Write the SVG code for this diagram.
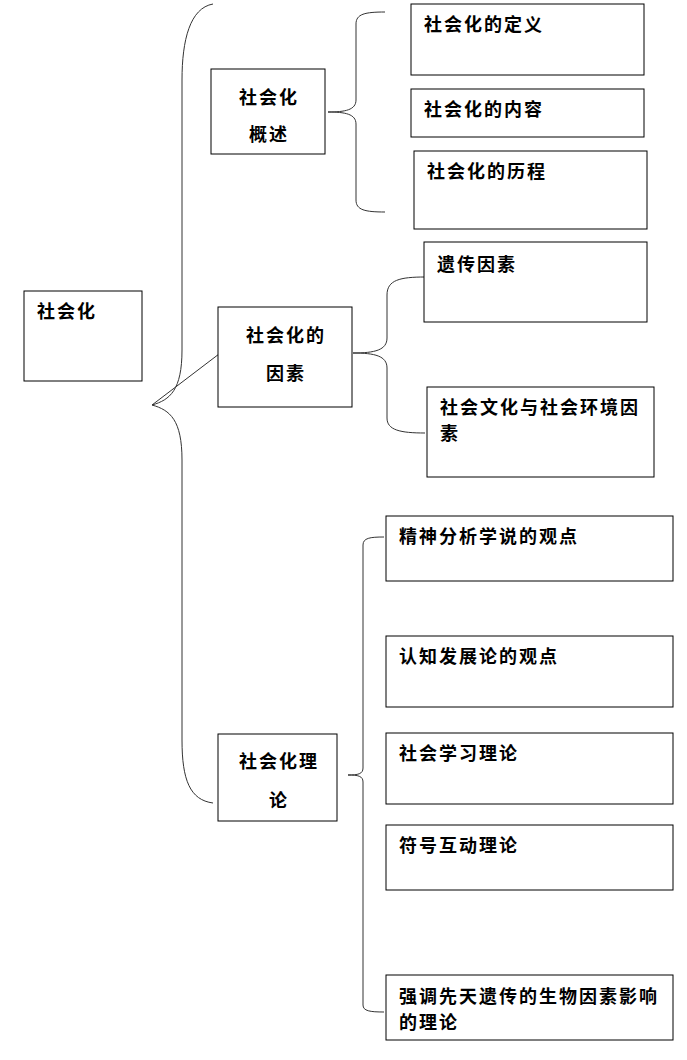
<svg xmlns="http://www.w3.org/2000/svg" width="687" height="1060" viewBox="0 0 687 1060">
<style>
rect{fill:#fff;stroke:#000;stroke-width:1}
text{font-family:"Liberation Serif","Noto Sans CJK SC",serif;font-size:18px;letter-spacing:2px;font-weight:bold;fill:#000}
.c{fill:none;stroke:#333;stroke-width:1}
</style>
<rect x="0" y="0" width="687" height="1060" style="stroke:none"/>
<g id="connectors">
<path class="c" d="M213,4 C190,8 182,40 182,80 L182,350 C182,390 170,400 152,405 C170,410 182,420 182,460 L182,740 C182,780 190,800 213,803"/>
<path class="c" d="M152,405 L219,354"/>
<path class="c" d="M385,12 C365,12 356,14 356,24 L356,100 C356,110 345,112 328,112 C345,112 356,114 356,124 L356,200 C356,210 365,212 385,212"/>
<path class="c" d="M425,277 C400,277 387,280 387,295 L387,338 C387,350 375,353 353,353 C375,353 387,356 387,368 L387,418 C387,430 400,433 425,433"/>
<path class="c" d="M384,537 C370,537 363,538 363,545 L363,768 C363,774 358,775 348,775 C358,775 363,776 363,782 L363,1005 C363,1011 370,1012 384,1012"/>
</g>
<g id="n0"><rect x="24" y="291" width="118" height="90"/><text x="37" y="318">社会化</text></g>
<g id="n1"><rect x="211" y="69" width="114" height="85"/><text x="269" y="104" text-anchor="middle">社会化</text><text x="269" y="141" text-anchor="middle">概述</text></g>
<g id="n2"><rect x="218" y="307" width="134" height="100"/><text x="286" y="342" text-anchor="middle">社会化的</text><text x="286" y="380" text-anchor="middle">因素</text></g>
<g id="n3"><rect x="218" y="734" width="119" height="87"/><text x="279" y="768" text-anchor="middle">社会化理</text><text x="279" y="807" text-anchor="middle">论</text></g>
<g id="n4"><rect x="411" y="4" width="233" height="71"/><text x="424" y="31">社会化的定义</text></g>
<g id="n5"><rect x="411" y="89" width="233" height="48"/><text x="424" y="116">社会化的内容</text></g>
<g id="n6"><rect x="414" y="151" width="233" height="78"/><text x="427" y="178">社会化的历程</text></g>
<g id="n7"><rect x="424" y="242" width="223" height="80"/><text x="437" y="271">遗传因素</text></g>
<g id="n8"><rect x="427" y="387" width="227" height="90"/><text x="440" y="414">社会文化与社会环境因</text><text x="440" y="440">素</text></g>
<g id="n9"><rect x="386" y="516" width="287" height="65"/><text x="399" y="543">精神分析学说的观点</text></g>
<g id="n10"><rect x="386" y="636" width="287" height="71"/><text x="399" y="663">认知发展论的观点</text></g>
<g id="n11"><rect x="386" y="733" width="287" height="71"/><text x="399" y="760">社会学习理论</text></g>
<g id="n12"><rect x="386" y="825" width="287" height="65"/><text x="399" y="852">符号互动理论</text></g>
<g id="n13"><rect x="386" y="975" width="287" height="65"/><text x="399" y="1003">强调先天遗传的生物因素影响</text><text x="399" y="1029">的理论</text></g>
</svg>
